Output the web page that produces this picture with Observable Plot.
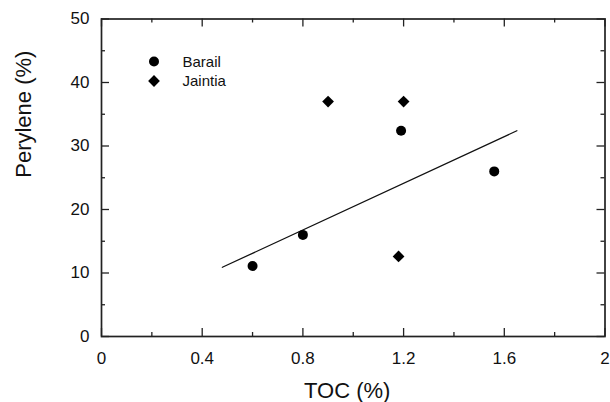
<!DOCTYPE html>
<html>
<head>
<meta charset="utf-8">
<script src="https://cdn.jsdelivr.net/npm/d3@7"></script>
<script src="https://cdn.jsdelivr.net/npm/@observablehq/plot@0.6"></script>
<style>
  html, body { margin: 0; padding: 0; background: #fff; }
</style>
</head>
<body>
<div id="chart"></div>
<script>
// ---- data ----
const seriesNames = ["Barail", "Jaintia"];
const barailTOC = [0.6, 0.8, 1.19, 1.56];
const barailPerylene = [11.1, 16.0, 32.4, 26.0];
const jaintiaTOC = [0.9, 1.2, 1.18];
const jaintiaPerylene = [37.0, 37.0, 12.6];
const fitTOC = [0.48, 1.65];
const fitPerylene = [10.9, 32.4];
const xDomain = [0, 2];
const yDomain = [0, 50];
const xMajorTicks = [0, 0.4, 0.8, 1.2, 1.6, 2];
const xMinorTicks = [0.2, 0.6, 1.0, 1.4, 1.8];
const yMajorTicks = [0, 10, 20, 30, 40, 50];
const yMinorTicks = [5, 15, 25, 35, 45];
const xTitle = "TOC (%)";
const yTitle = "Perylene (%)";

// ---- tables built from the arrays ----
const barail = barailTOC.map((x, i) => ({x, y: barailPerylene[i]}));
const jaintia = jaintiaTOC.map((x, i) => ({x, y: jaintiaPerylene[i]}));
const fit = fitTOC.map((x, i) => ({x, y: fitPerylene[i]}));

const ink = "#111";
const tickStyle = {stroke: "#222", strokeWidth: 1.3};
const majorLen = 8, minorLen = 4;

// inward tick marks on each side of the frame, as zero-length rules extended inward by an inset
function ticksBottom(t, len) { return Plot.ruleX(t, {x: d => d, y1: yDomain[0], y2: yDomain[0], insetBottom: len, ...tickStyle}); }
function ticksTop(t, len)    { return Plot.ruleX(t, {x: d => d, y1: yDomain[1], y2: yDomain[1], insetTop: len, ...tickStyle}); }
function ticksLeft(t, len)   { return Plot.ruleY(t, {y: d => d, x1: xDomain[0], x2: xDomain[0], insetLeft: len, ...tickStyle}); }
function ticksRight(t, len)  { return Plot.ruleY(t, {y: d => d, x1: xDomain[1], x2: xDomain[1], insetRight: len, ...tickStyle}); }

const chart = Plot.plot({
  width: 610,
  height: 402,
  marginLeft: 101,
  marginRight: 5.5,
  marginTop: 18.5,
  marginBottom: 66,
  style: {fontFamily: "'Liberation Sans', Arial, sans-serif", background: "#fff", color: ink},
  x: {domain: xDomain},
  y: {domain: yDomain},
  marks: [
    ticksBottom(xMajorTicks, majorLen), ticksBottom(xMinorTicks, minorLen),
    ticksTop(xMajorTicks, majorLen), ticksTop(xMinorTicks, minorLen),
    ticksLeft(yMajorTicks, majorLen), ticksLeft(yMinorTicks, minorLen),
    ticksRight(yMajorTicks, majorLen), ticksRight(yMinorTicks, minorLen),
    // tick labels
    Plot.axisX(xMajorTicks, {anchor: "bottom", tickSize: 0, tickPadding: 15, fontSize: 17, label: null, tickFormat: d => String(d)}),
    Plot.axisY(yMajorTicks, {anchor: "left", tickSize: 0, tickPadding: 12, fontSize: 17, label: null, tickFormat: d => String(d)}),
    // frame
    Plot.frame({stroke: "#222", strokeWidth: 1.7}),
    // regression line
    Plot.line(fit, {x: "x", y: "y", stroke: "#111", strokeWidth: 1.3}),
    // points
    Plot.dot(barail, {x: "x", y: "y", r: 5, fill: "#000", symbol: "circle"}),
    Plot.dot(jaintia, {x: "x", y: "y", r: 5.3, fill: "#000", symbol: "diamond2"}),
    // legend
    Plot.dot([seriesNames[0]], {frameAnchor: "top-left", dx: 52.5, dy: 42.5, r: 5, fill: "#000", symbol: "circle"}),
    Plot.dot([seriesNames[1]], {frameAnchor: "top-left", dx: 52.5, dy: 62, r: 5.3, fill: "#000", symbol: "diamond2"}),
    Plot.text([seriesNames[0]], {frameAnchor: "top-left", dx: 81, dy: 43.5, text: d => d, textAnchor: "start", lineAnchor: "middle", fontSize: 15, fill: ink}),
    Plot.text([seriesNames[1]], {frameAnchor: "top-left", dx: 81, dy: 62.5, text: d => d, textAnchor: "start", lineAnchor: "middle", fontSize: 15, fill: ink}),
    // axis titles
    Plot.text([xTitle], {frameAnchor: "bottom", dx: -6, dy: 46, text: d => d, lineAnchor: "top", fontSize: 22, fill: ink}),
    Plot.text([yTitle], {frameAnchor: "left", dx: -78, text: d => d, rotate: -90, lineAnchor: "middle", fontSize: 22, fill: ink})
  ]
});

document.getElementById("chart").append(chart);
</script>
</body>
</html>
